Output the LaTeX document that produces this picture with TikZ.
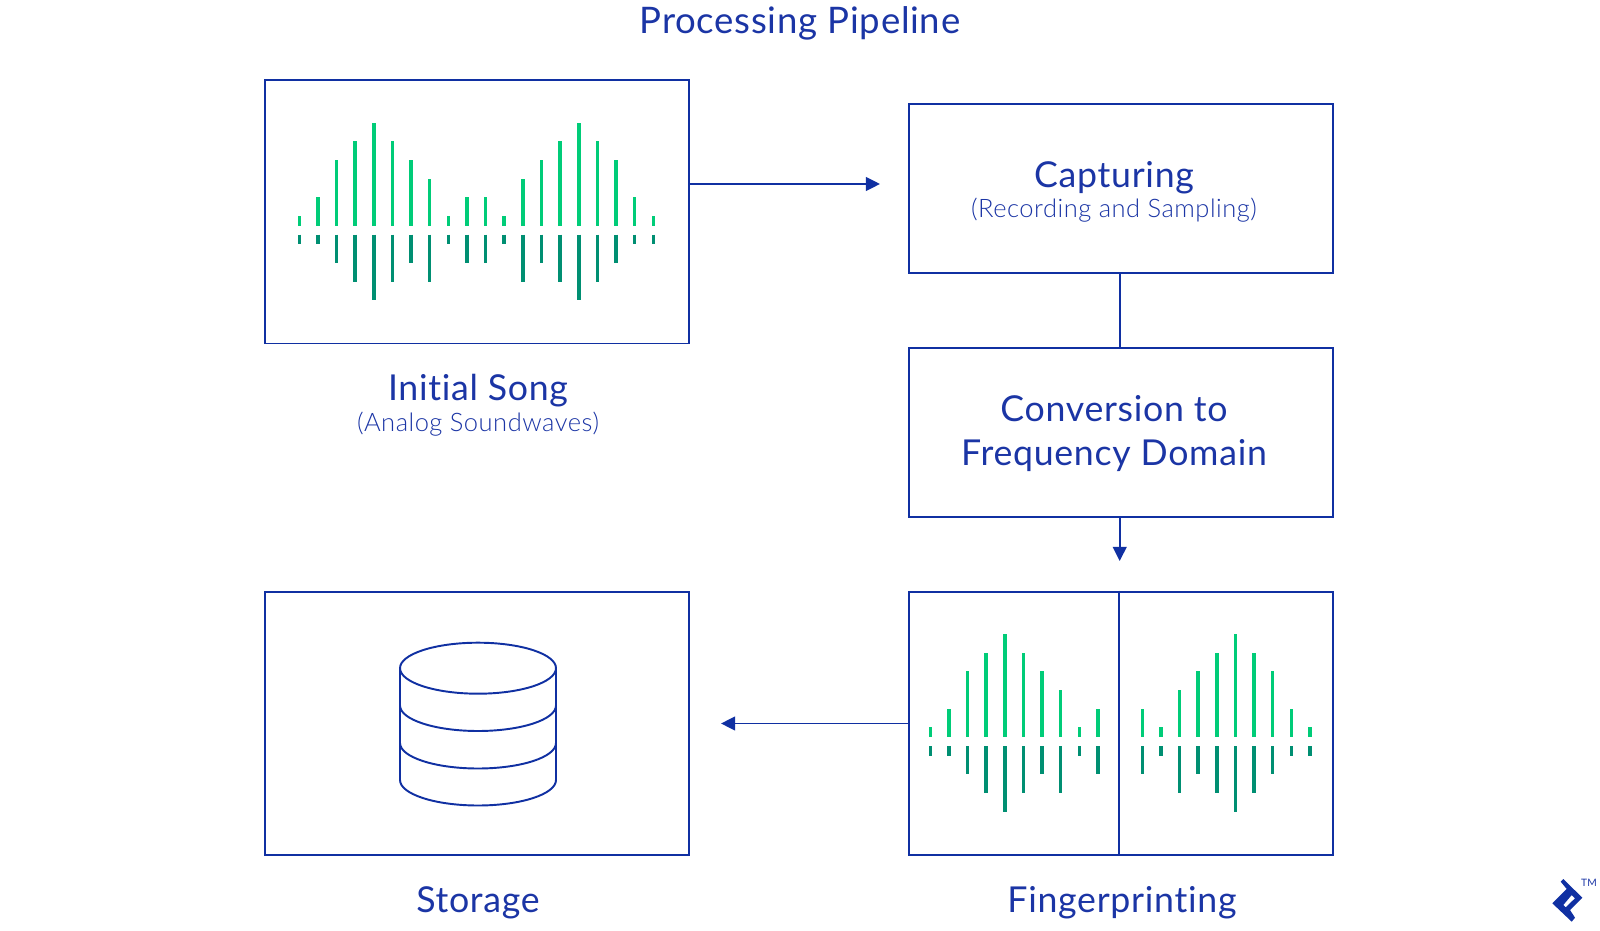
\documentclass[tikz,border=0pt]{standalone}
\usepackage{fontspec}
\setmainfont[Ligatures=NoCommon, LetterSpace=2]{Lato}
\newfontfamily\sublight[Ligatures=NoCommon, LetterSpace=2]{Lato Light}
\usetikzlibrary{arrows.meta,positioning}
\definecolor{pipeblue}{HTML}{1030A2}
\definecolor{pipetext}{HTML}{1B35A5}
\definecolor{wavelight}{HTML}{00CC78}
\definecolor{wavedark}{HTML}{008F72}

\begin{document}
\begin{tikzpicture}[
    x=0.01cm, y=-0.01cm,
    box/.style={draw=pipeblue, line width=0.55pt, minimum width=4.24cm, minimum height=2.635cm, inner sep=0pt},
    flatbox/.style={box, minimum height=1.69cm},
    link/.style={draw=pipeblue, line width=0.55pt},
    arrow/.style={link, -{Triangle[length=4pt, width=3.9pt]}},
    head/.style={font=\fontsize{10.15}{12.5}\selectfont, text=pipetext, align=center, inner sep=0pt},
    sub/.style={font=\sublight\fontsize{7.25}{9}\selectfont, text=pipetext, align=center, inner sep=0pt},
    upbar/.style={draw=wavelight, line width=1pt},
    downbar/.style={draw=wavedark, line width=1pt},
    drum/.style={draw=pipeblue, line width=0.55pt},
]
\useasboundingbox (0,0) rectangle (1600,931);

% Title
\node[head, font=\fontsize{10.4}{12.5}\selectfont] (title) at (800,23.5) {Processing Pipeline};

% Boxes
\node[box] (song) at (477,211.7) {};
\node[flatbox] (capture) at (1121,188.5) {};
\node[flatbox] (convert) at (1121,432.3) {};
\node[box] (finger) at (1121,723.5) {};
\node[box] (store) at (477,723.5) {};

% Labels
\node[head] (songlabel) at (478,391) {Initial Song};
\node[sub] (songsub) at (478,424.5) {(Analog Soundwaves)};
\node[head] (capturelabel) at (1114,177.6) {Capturing};
\node[sub] (capturesub) at (1114,210.5) {(Recording and Sampling)};
\node[head] (convertlabel) at (1114,433.5) {Conversion to\\Frequency Domain};
\node[head] (storelabel) at (478,902.5) {Storage};
\node[head] (fingerlabel) at (1122,902.5) {Fingerprinting};

% Connectors
\coordinate (captureend) at (880,184);
\coordinate (convertend) at (1119.7,561);
\coordinate (storeend) at (721,723.5);
\coordinate (split) at (1118.7,723.5);
\draw[arrow] (song.east |- captureend) -- (captureend);
\draw[link] (capture.south -| convertend) -- (convert.north -| convertend);
\draw[arrow] (convert.south -| convertend) -- (convertend);
\draw[arrow] (finger.west) -- (storeend);

% Divider
\draw[link] (split |- finger.north) -- (split |- finger.south);

% Initial song wave
\foreach \i/\up/\down in {0/1/1,1/2/1,2/4/2,3/5/3,4/6/4,5/5/3,6/4/2,7/3/3,8/1/1,9/2/2,
                          10/2/2,11/1/1,12/3/3,13/4/2,14/5/3,15/6/4,16/5/3,17/4/2,18/2/1,19/1/1} {
    \draw[upbar] (299.3+18.63*\i,225.7) -- ++(0,-9.7-18.63*\up+18.63);
    \draw[downbar] (299.3+18.63*\i,234.7) -- ++(0,9.7+18.63*\down-18.63);
}

% Fingerprint waves
\foreach \i/\up/\down in {0/1/1,1/2/1,2/4/2,3/5/3,4/6/4,5/5/3,6/4/2,7/3/3,8/1/1,9/2/2} {
    \draw[upbar] (930.3+18.63*\i,737) -- ++(0,-9.7-18.63*\up+18.63);
    \draw[downbar] (930.3+18.63*\i,746) -- ++(0,9.7+18.63*\down-18.63);
}
\foreach \i/\up/\down in {0/2/2,1/1/1,2/3/3,3/4/2,4/5/3,5/6/4,6/5/3,7/4/2,8/2/1,9/1/1} {
    \draw[upbar] (1142.3+18.63*\i,737) -- ++(0,-9.7-18.63*\up+18.63);
    \draw[downbar] (1142.3+18.63*\i,746) -- ++(0,9.7+18.63*\down-18.63);
}

% Storage drum
\draw[drum] (478,668.2) ellipse [x radius=78, y radius=25.5];
\draw[drum] (400,668.2) -- (400,780) arc [start angle=180, end angle=360, x radius=78, y radius=-25.5] -- (556,668.2);
\draw[drum] (400,705.5) arc [start angle=180, end angle=360, x radius=78, y radius=-25.5];
\draw[drum] (400,743) arc [start angle=180, end angle=360, x radius=78, y radius=-25.5];

% Logo
\fill[pipeblue, even odd rule] (1560.7,881.7) -- (1563.3,879) -- (1582.3,897.7) -- (1570,910) -- (1575,917.7) -- (1571.7,921.7) -- (1552.3,903.3) -- (1566.7,889) -- cycle
    (1571.7,895) -- (1563.3,905) -- (1565.7,907.3) -- (1575,898.3) -- cycle;
\node[font=\fontsize{2.9}{4}\selectfont, text=pipetext, inner sep=0pt] (logomark) at (1589,883) {TM};

\end{tikzpicture}
\end{document}
